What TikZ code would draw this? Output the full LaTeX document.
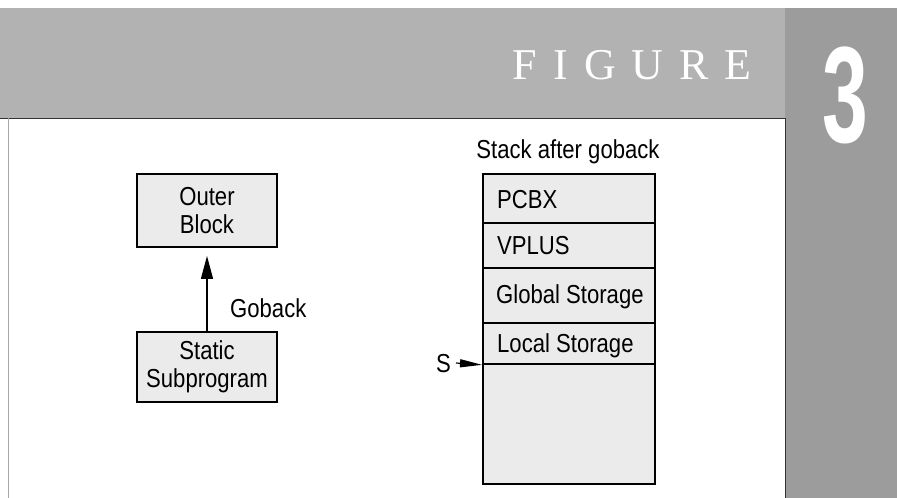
\documentclass[tikz,border=0pt]{standalone}
\usepackage{fontspec}
\setmainfont{Liberation Sans}[FakeStretch=0.85]
\newfontfamily\figfont{Liberation Serif}
\newfontfamily\numfont{Liberation Sans Bold}[FakeStretch=0.6]
\usetikzlibrary{arrows.meta}
\definecolor{bannergray}{gray}{0.70}
\definecolor{panelgray}{gray}{0.61}
\definecolor{boxfill}{gray}{0.92}
\begin{document}
\begin{tikzpicture}[x=1pt,y=-1pt,
  txt/.style={font=\fontsize{26}{28}\selectfont},
  box/.style={txt, draw=black, line width=1.8pt, fill=boxfill, minimum width=140pt, inner sep=0pt, align=center},
  row/.style={draw=black, line width=1.8pt, fill=boxfill, minimum width=172pt, inner sep=0pt, anchor=north west},
  lbl/.style={txt, inner sep=0pt},
  conn/.style={line width=1.2pt}]
\useasboundingbox (0,0) rectangle (897,498);
\fill[white] (0,0) rectangle (897,498);
% banner and side panel
\fill[bannergray] (0,8) rectangle (785,118);
\fill[panelgray] (785,8) rectangle (897,498);
\draw[line width=1.6pt, black!80] (0,118.5) -- (785,118.5);
\draw[line width=1pt, black!80] (785,118) -- (785,498);
\draw[line width=0.6pt, black!35] (8,118) -- (8,498);
\node[anchor=base east, inner sep=0pt, text=white, font=\figfont\fontsize{44}{44}\selectfont] (fig) at (752,79)
  {F\hspace{16pt}I\hspace{16pt}G\hspace{16pt}U\hspace{16pt}R\hspace{16pt}E};
\node[anchor=base, inner sep=0pt, text=white, font=\numfont\fontsize{137}{137}\selectfont] (num) at (845,142) {3};
% left diagram
\node[box, minimum height=73pt] (outer) at (207,210.5) {Outer\\Block};
\node[box, minimum height=70pt] (static) at (207,367) {Static\\Subprogram};
\draw[conn, -{Triangle[length=23pt,width=12pt]}, shorten >=8pt] (static) -- (outer);
\node[lbl, anchor=base west] (goback) at (230,317) {Goback};
% stack
\node[lbl, anchor=base] (title) at (568,158) {Stack after goback};
\node[row, minimum height=49pt] (pcbx) at (482,173) {};
\node[row, minimum height=45pt] (vplus) at (482,222) {};
\node[row, minimum height=55pt] (global) at (482,267) {};
\node[row, minimum height=41pt] (local) at (482,322) {};
\node[row, minimum height=120pt] (free) at (482,363) {};
\node[lbl, anchor=base west] (tpcbx) at ([xshift=15pt,yshift=-10pt]pcbx.west) {PCBX};
\node[lbl, anchor=base west] (tvplus) at ([xshift=15pt,yshift=-9pt]vplus.west) {VPLUS};
\node[lbl, anchor=base west] (tglobal) at ([xshift=14pt,yshift=-8pt]global.west) {Global Storage};
\node[lbl, anchor=base west] (tlocal) at ([xshift=15pt,yshift=-9pt]local.west) {Local Storage};
\node[lbl, anchor=base east] (s) at (451,372) {S};
\coordinate (sfrom) at (456,363);
\draw[conn, -{Triangle[length=22pt,width=8pt]}] (sfrom) -- (local.south west);
\end{tikzpicture}
\end{document}
